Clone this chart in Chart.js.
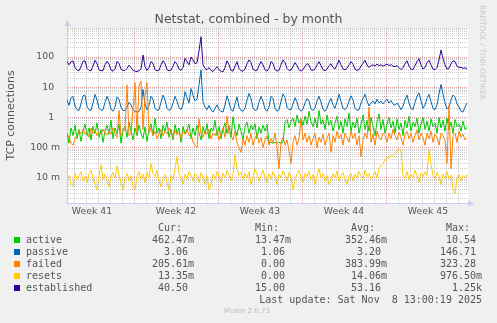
<!DOCTYPE html>
<html>
<head>
<meta charset="utf-8">
<title>Netstat, combined - by month</title>
<script src="https://cdn.jsdelivr.net/npm/chart.js@4.4.1/dist/chart.umd.min.js"></script>
<style>
  html, body { margin: 0; padding: 0; background: #f0f0f0; }
  #wrap { position: relative; width: 497px; height: 323px; overflow: hidden; }
  #chart { position: absolute; left: 0; top: 0; }
  .txt { position: absolute; font: 10px 'DejaVu Sans Mono', monospace; color: #555; white-space: pre; line-height: 12px; }
  .sw { position: absolute; width: 6px; height: 6px; }
  #brand { position: absolute; left: 487px; top: 5px; font: 7.4px 'DejaVu Sans', sans-serif; color: #c8c8c8;
           white-space: nowrap; transform-origin: 0 0; transform: translate(-4px, 0) rotate(90deg) translate(0, -4px); }
  #munin { position: absolute; left: 0; width: 494px; top: 307px; text-align: center; font: 7px 'DejaVu Sans', sans-serif; color: #bbb; }
</style>
</head>
<body>
<div id="wrap">
  <canvas id="chart" width="497" height="323"></canvas>
  <div id="legend"></div>
  <div id="brand">RRDTOOL / TOBI OETIKER</div>
  <div id="munin">Munin 2.0.73</div>
</div>
<script>
// --- netstat samples, one every 4 hours, oldest first ---
const STEP_HOURS = 4;

const active = [
  0.30,0.14,0.45,0.25,0.55,0.20, 0.40,0.16,0.35,0.60,0.25,0.45,
  0.18,0.50,0.30,0.65,0.22,0.40, 0.15,0.35,0.55,0.28,0.80,0.20,
  0.45,0.30,0.60,0.14,0.38,0.50, 0.22,0.70,0.35,0.18,0.45,0.25,
  0.55,0.30,0.20,0.48,0.16,0.40, 0.62,0.25,0.95,0.30,0.45,0.20,
  0.55,0.35,0.70,0.22,0.40,0.18, 0.58,0.30,0.45,0.15,0.50,0.28,
  0.38,0.60,0.20,0.45,0.25,0.55, 0.32,0.18,0.50,0.28,0.62,0.20,
  0.45,0.35,0.80,0.25,0.50,0.20, 0.42,0.65,0.30,0.55,0.22,1.05,
  0.40,0.25,0.60,0.35,0.18,0.50, 0.70,0.30,0.55,0.40,0.62,0.20,
  0.48,0.30,0.55,0.35,0.60,0.15, 0.15,0.14,0.15,0.14,0.15,0.14,
  0.15,0.70,0.85,0.45,0.75,0.95, 0.50,1.20,0.65,0.90,0.55,1.10,
  0.60,1.60,0.70,0.50,0.95,0.45, 1.70,0.60,0.85,0.40,1.20,0.55,
  0.80,0.35,0.65,1.10,0.40,0.75, 0.30,0.90,0.50,1.40,0.35,0.70,
  0.45,0.95,0.30,0.60,1.20,0.40, 0.80,0.35,1.00,0.50,0.25,0.70,
  1.30,0.40,0.85,0.30,0.60,1.00, 0.45,0.75,0.30,0.90,0.40,0.65,
  0.25,0.80,0.45,1.10,0.35,0.70, 0.50,0.95,0.30,0.60,1.00,0.40,
  0.75,0.35,0.90,0.50,0.65,0.30, 1.00,0.45,0.80,0.35,0.95,0.40,
  0.70,0.30,0.85,0.50,0.60,0.35, 0.75,0.40,0.46
];

const passive = [
  3.8,2.5,4.5,5.0,2.4,1.8, 1.7,2.8,5.2,5.5,2.3,1.8,
  1.7,3.0,5.8,3.8,2.0,1.7, 1.8,3.2,5.0,3.5,1.9,1.6,
  2.2,4.8,4.0,2.2,1.7,1.7, 2.2,3.2,2.6,1.8,1.6,1.5,
  1.6,2.2,8.5,2.8,1.8,2.5, 5.0,4.0,2.0,1.7,1.8,3.2,
  5.5,3.8,2.0,1.7,1.9,3.0, 5.0,3.5,2.1,1.8,2.6,7.0,
  4.5,3.0,9.0,5.5,3.5,4.0, 12,37,3.2,2.2,1.8,2.5,
  1.8,1.5,2.0,2.6,1.8,1.6, 1.5,2.6,5.2,3.2,1.8,1.6,
  2.8,4.8,2.2,1.7,1.6,2.0, 3.8,6.2,4.2,2.1,1.7,1.8,
  3.2,5.0,3.4,1.9,1.6,2.2, 5.0,4.2,2.0,1.6,1.8,3.4,
  6.0,4.5,2.2,1.8,1.8,2.8, 4.5,3.2,1.9,1.6,1.9,3.0,
  4.2,3.5,1.9,1.7,2.1,3.5, 5.0,3.2,1.9,1.6,2.0,3.2,
  4.2,2.6,2.0,3.4,5.8,3.4, 2.0,1.8,2.2,3.5,5.2,3.8,
  2.0,1.7,1.8,3.0,4.2,5.8, 3.5,2.4,3.0,3.5,2.8,4.0,
  3.0,3.5,2.8,3.4,4.0,3.0, 3.6,2.8,2.5,3.0,2.4,1.8,
  2.4,3.8,5.5,3.0,2.0,1.8, 3.2,5.0,6.5,3.5,2.0,2.6,
  4.2,5.8,3.4,2.0,1.8,2.6, 6.0,12.3,6.0,3.0,1.9,2.2,
  3.8,5.5,4.8,2.8,2.2,1.6, 1.5,2.2,3.06
];

const failed = [
  0.30,0.22,0.14,0.12,0.20,0.25,0.35,0.30,0.40,0.28,
  0.32,0.22,0.45,0.30,0.38,0.25,0.33,0.28,0.40,0.30,
  0.26,0.35,0.28,0.45,0.30,0.22,1.70,0.25,0.35,0.40,
  12.0,0.25,0.30,2.0,14.0,0.30,11.0,16.0,0.40,5.0,
  14.0,0.30,0.45,0.25,0.35,0.20,0.30,0.40,0.25,0.35,
  0.28,0.45,0.30,0.22,0.38,0.26,0.32,0.20,0.35,0.28,
  0.40,0.25,0.30,0.15,0.12,0.10,0.90,0.30,0.22,0.35,
  0.28,0.40,0.20,0.30,0.25,0.35,0.18,0.30,0.45,0.22,
  1.10,0.30,0.25,0.18,0.35,0.15,0.10,0.07,0.20,0.12,
  0.25,0.15,0.30,0.12,0.20,0.28,0.14,0.22,0.10,0.18,
  0.25,0.12,0.20,0.15,0.30,0.10,0.02,0.15,0.22,0.12,
  0.18,0.08,0.03,0.15,0.25,0.12,0.20,0.90,0.18,0.30,
  0.15,0.25,0.12,0.20,0.30,0.10,0.22,0.15,0.28,0.12,
  0.20,0.30,0.07,0.25,0.15,0.35,0.20,0.28,0.12,0.30,
  0.22,0.15,0.35,0.20,0.30,0.12,0.25,0.05,0.18,0.30,
  0.20,2.20,0.15,0.28,0.12,0.35,0.22,0.18,0.30,0.25,
  0.15,0.30,0.20,0.40,0.25,0.18,0.32,0.22,0.12,0.28,
  0.35,0.20,0.30,0.15,0.25,0.38,0.18,0.30,0.22,0.12,
  0.30,0.20,0.35,0.15,0.28,0.22,0.12,0.30,0.25,0.18,
  0.03,2.50,0.02,0.25,0.30,0.15,0.35,0.22,0.28,0.18,
  0.21
];

const resets = [
  0.010,0.012,0.006,0.005,0.014,0.009,0.012,0.016,0.008,0.011,
  0.007,0.013,0.018,0.010,0.006,0.004,0.012,0.027,0.009,0.013,
  0.008,0.005,0.011,0.015,0.010,0.025,0.012,0.007,0.004,0.010,
  0.014,0.008,0.012,0.005,0.004,0.011,0.016,0.009,0.013,0.007,
  0.015,0.010,0.030,0.014,0.011,0.018,0.008,0.005,0.010,0.013,
  0.007,0.004,0.012,0.009,0.020,0.050,0.015,0.010,0.006,0.013,
  0.009,0.016,0.012,0.008,0.014,0.011,0.007,0.015,0.010,0.006,
  0.012,0.004,0.006,0.013,0.009,0.016,0.011,0.007,0.014,0.010,
  0.018,0.012,0.008,0.013,0.058,0.020,0.012,0.015,0.009,0.014,
  0.010,0.016,0.006,0.011,0.020,0.013,0.008,0.012,0.018,0.010,
  0.007,0.014,0.009,0.016,0.011,0.006,0.013,0.010,0.017,0.012,
  0.008,0.015,0.010,0.004,0.009,0.013,0.018,0.010,0.007,0.014,
  0.011,0.016,0.009,0.013,0.006,0.012,0.020,0.010,0.014,0.008,
  0.012,0.006,0.009,0.014,0.010,0.017,0.008,0.012,0.015,0.009,
  0.006,0.011,0.014,0.008,0.013,0.010,0.016,0.012,0.009,0.018,
  0.011,0.014,0.009,0.012,0.016,0.010,0.020,0.025,0.030,0.040,
  0.050,0.045,0.055,0.050,0.060,0.075,0.090,0.085,0.012,0.010,
  0.016,0.009,0.013,0.010,0.018,0.012,0.007,0.014,0.011,0.016,
  0.012,0.085,0.030,0.012,0.009,0.015,0.011,0.006,0.013,0.010,
  0.016,0.009,0.012,0.004,0.003,0.010,0.013,0.008,0.012,0.010,
  0.013
];

const established = [
  72,55,70,74,45,37, 35,48,72,75,42,36, 35,50,78,60,38,35,
  36,55,72,58,37,34, 40,70,62,40,35,36, 42,54,45,36,34,33,
  35,40,116,48,36,45, 70,62,38,35,36,55, 75,60,38,35,37,50,
  70,58,40,36,45,90, 70,55,100,80,60,65, 160,470,55,42,38,45,
  36,33,40,48,38,34, 32,45,75,55,36,34, 50,70,42,35,34,40,
  60,80,65,40,35,36, 52,70,55,38,34,42, 70,62,38,34,36,55,
  80,65,42,36,37,48, 65,52,38,34,38,50, 60,55,38,36,40,55,
  70,52,38,35,40,52, 60,45,40,55,78,55, 40,38,42,55,70,58,
  40,36,38,50,62,78, 55,45,52,55,50,58, 52,55,50,54,58,52,
  56,50,48,52,45,38, 45,60,75,50,40,38, 52,70,88,55,40,45,
  65,78,55,40,38,45, 80,170,90,55,40,42, 60,75,70,50,45,46,
  42,44,40.5
];

// legend table
const seriesNames  = ['active', 'passive', 'failed', 'resets', 'established'];
const seriesColors = ['#00cc00', '#0066b3', '#ff8000', '#ffcc00', '#330099'];
const curText = ['462.47m', '3.06', '205.61m', '13.35m', '40.50'];
const minText = ['13.47m', '1.06', '0.00', '0.00', '15.00'];
const avgText = ['352.46m', '3.20', '383.99m', '14.06m', '53.16'];
const maxText = ['10.54', '146.71', '323.28', '976.50m', '1.25k'];
const lastUpdate = 'Last update: Sat Nov  8 13:00:19 2025';

// time axis (hours from left edge)
const xMaxHours = 802;
const firstMidnight = 14;
const weekStarts = [134, 302, 470, 638];
const weekCentres = [50, 218, 386, 554, 722];
const weekLabels = ['Week 41', 'Week 42', 'Week 43', 'Week 44', 'Week 45'];

// value axis
const yMin = 0.00147, yMax = 913;
const yTickValues = [100, 10, 1, 0.1, 0.01];
const yTickLabels = ['100  ', '10  ', '1  ', '100 m', '10 m'];

const GRID_GREY = 'rgba(120,120,120,0.38)';
const GRID_RED = 'rgba(225,70,70,0.5)';
const AXIS_BLUE = '#c8cdf0';
const TEXT = '#555';

const hours = active.map((_, i) => i * STEP_HOURS);
const toPoints = vals => vals.map((v, i) => ({ x: hours[i], y: v }));

const xTicks = [];
for (let h = firstMidnight; h <= xMaxHours; h += 24) xTicks.push(h);
weekCentres.forEach(h => xTicks.push(h));
xTicks.sort((a, b) => a - b);

const yGrid = [];
for (let e = -3; e <= 2; e++) {
  for (let m = 1; m <= 9; m++) {
    const v = m * Math.pow(10, e);
    if (v >= yMin && v <= yMax) yGrid.push(v);
  }
}
const isDecade = v => Math.abs(Math.log10(v) - Math.round(Math.log10(v))) < 1e-9;
const yLabel = v => {
  const k = yTickValues.findIndex(t => Math.abs(v - t) < t * 1e-6);
  return k < 0 ? '' : yTickLabels[k];
};

// plot background and axis arrows
const frame = {
  id: 'frame',
  beforeDraw(chart) {
    const { ctx, chartArea: a } = chart;
    ctx.save();
    ctx.fillStyle = '#f0f0f0';
    ctx.fillRect(0, 0, chart.width, chart.height);
    ctx.fillStyle = '#ffffff';
    ctx.fillRect(a.left, a.top, a.right - a.left, a.bottom - a.top);
    ctx.restore();
  },
  afterDraw(chart) {
    const { ctx, chartArea: a } = chart;
    const x0 = Math.round(a.left) + 0.5, y0 = Math.round(a.bottom) + 0.5;
    ctx.save();
    ctx.strokeStyle = AXIS_BLUE;
    ctx.fillStyle = AXIS_BLUE;
    ctx.lineWidth = 1;
    ctx.beginPath();
    ctx.moveTo(x0, a.top); ctx.lineTo(x0, a.top - 3);
    ctx.moveTo(a.right, y0); ctx.lineTo(a.right + 2, y0);
    ctx.stroke();
    ctx.beginPath();
    ctx.moveTo(x0 - 3, a.top - 2); ctx.lineTo(x0 + 3, a.top - 2); ctx.lineTo(x0, a.top - 8); ctx.closePath();
    ctx.moveTo(a.right, y0 - 3); ctx.lineTo(a.right, y0 + 3); ctx.lineTo(a.right + 6, y0); ctx.closePath();
    ctx.fill();
    ctx.restore();
  }
};

Chart.defaults.font.family = "'DejaVu Sans', sans-serif";

const line = (label, vals, color, order) => ({
  label, data: toPoints(vals), borderColor: color, backgroundColor: color,
  borderWidth: 1, pointRadius: 0, tension: 0, order
});

new Chart(document.getElementById('chart'), {
  type: 'line',
  data: {
    datasets: [
      line('active', active, seriesColors[0], 5),
      line('passive', passive, seriesColors[1], 4),
      line('failed', failed, seriesColors[2], 3),
      line('resets', resets, seriesColors[3], 2),
      line('established', established, seriesColors[4], 1)
    ]
  },
  options: {
    responsive: false,
    animation: false,
    events: [],
    layout: { padding: { left: 0, right: 0, top: 0, bottom: 100 } },
    plugins: {
      legend: { display: false },
      tooltip: { enabled: false },
      title: {
        display: true,
        text: 'Netstat, combined - by month',
        color: TEXT,
        font: { size: 12.5, weight: 'normal' },
        padding: { top: 12, bottom: 1 }
      }
    },
    scales: {
      x: {
        type: 'linear', min: 0, max: xMaxHours,
        afterBuildTicks: s => { s.ticks = xTicks.map(v => ({ value: v })); },
        afterFit: s => { s.height = 20; },
        ticks: {
          autoSkip: false, maxRotation: 0, padding: 3, color: TEXT, font: { size: 9.3 },
          callback: v => { const k = weekCentres.indexOf(v); return k < 0 ? '' : weekLabels[k]; }
        },
        grid: {
          drawTicks: false, lineWidth: 1,
          color: c => {
            const v = c.tick ? c.tick.value : null;
            if (weekCentres.includes(v)) return 'rgba(0,0,0,0)';
            return weekStarts.includes(v) ? GRID_RED : GRID_GREY;
          }
        },
        border: { display: true, color: AXIS_BLUE, dash: [1, 1] }
      },
      y: {
        type: 'logarithmic', min: yMin, max: yMax,
        afterBuildTicks: s => { s.ticks = yGrid.map(v => ({ value: v })); },
        afterFit: s => { s.width = 67; },
        ticks: { autoSkip: false, padding: 7, color: TEXT, font: { size: 9.3 }, callback: v => yLabel(v) },
        grid: {
          drawTicks: false, lineWidth: 1,
          color: c => (c.tick && isDecade(c.tick.value)) ? GRID_RED : GRID_GREY
        },
        border: { display: true, color: AXIS_BLUE, dash: [1, 1] },
        title: { display: true, text: 'TCP connections', color: TEXT, font: { size: 11 }, padding: { top: 5, bottom: 0 } }
      },
      side: {
        type: 'linear', position: 'right', display: true,
        grid: { display: false }, ticks: { display: false }, border: { display: false },
        afterFit: s => { s.width = 29; }
      }
    }
  },
  plugins: [frame]
});

// legend below the plot
const legend = document.getElementById('legend');
const put = (text, left, centreY) => {
  const d = document.createElement('div');
  d.className = 'txt';
  d.textContent = text;
  d.style.left = left + 'px';
  d.style.top = (centreY - 6) + 'px';
  legend.appendChild(d);
};
const field = s => (/[a-z]$/i.test(s) ? s : s + ' ').padStart(7, ' ');
const cols = [152, 249, 345, 440];

put('Cur:', cols[0] + 6, 228);
put('Min:', cols[1] + 6, 228);
put('Avg:', cols[2] + 6, 228);
put('Max:', cols[3] + 6, 228);
seriesNames.forEach((name, i) => {
  const y = 240 + i * 12;
  const sw = document.createElement('div');
  sw.className = 'sw';
  sw.style.background = seriesColors[i];
  sw.style.left = '14px';
  sw.style.top = (y - 3) + 'px';
  legend.appendChild(sw);
  put(name, 26, y);
  put(field(curText[i]), cols[0], y);
  put(field(minText[i]), cols[1], y);
  put(field(avgText[i]), cols[2], y);
  put(field(maxText[i]), cols[3], y);
});
put(lastUpdate, 482 - lastUpdate.length * 6.02, 300);
</script>
</body>
</html>
